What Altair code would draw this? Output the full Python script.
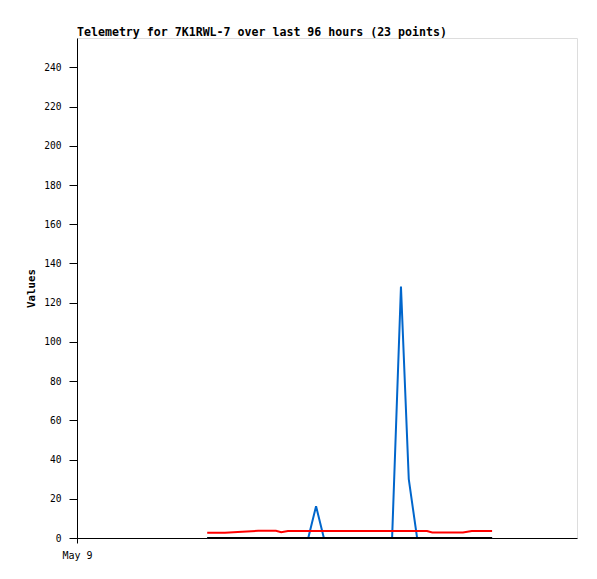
import altair as alt
import pandas as pd

# hours since May 9 00:00
hours = [25.0, 28.4, 31.7, 34.8, 38.2, 39.2, 40.5, 42.8, 44.4, 45.9, 47.4, 52.4,
         56.3, 60.5, 62.2, 63.7, 65.3, 67.2, 68.2, 71.6, 74.1, 75.8, 79.7]
blue_vals = [0, 0, 0, 0, 0, 0, 0, 0, 0, 16.2, 0, 0,
             0, 0, 128.3, 30, 0, 0, 0, 0, 0, 0, 0]
red_vals = [2.7, 2.7, 3.2, 3.7, 3.7, 3.0, 3.6, 3.6, 3.6, 3.6, 3.6, 3.6,
            3.6, 3.6, 3.6, 3.6, 3.6, 3.6, 2.8, 2.8, 2.8, 3.6, 3.6]
black_vals = [0] * 23

y_ticks = [0, 20, 40, 60, 80, 100, 120, 140, 160, 180, 200, 220, 240]

df = pd.DataFrame({
    "h": hours * 3,
    "v": blue_vals + red_vals + black_vals,
    "s": ["blue"] * 23 + ["red"] * 23 + ["black"] * 23,
})

FONT = "DejaVu Sans Mono"

xs = alt.X("h:Q", scale=alt.Scale(domain=[0, 96], nice=False, zero=False),
           axis=alt.Axis(values=[0], labelExpr="'May 9'", title=None, grid=False,
                         tickSize=5, labelFontSize=10, labelFont=FONT, labelColor="black",
                         labelAlign="center", labelFlush=False,
                         domainColor="black", tickColor="black", labelPadding=7))
ys = alt.Y("v:Q", scale=alt.Scale(domain=[0, 255], nice=False),
           axis=alt.Axis(values=y_ticks, title="Values", grid=False, tickSize=8,
                         labelFontSize=9.6, labelFont=FONT, labelColor="black",
                         domainColor="black", tickColor="black", labelPadding=8,
                         titleFont=FONT, titleFontSize=10.8, titleFontWeight="bold",
                         titleColor="black", titleAngle=270, titleX=-46, titleY=250,
                         titleAlign="center", titleBaseline="middle"))

def layer(name, color):
    return alt.Chart(df).transform_filter(alt.datum.s == name).mark_line(
        color=color, strokeWidth=2, interpolate="linear").encode(x=xs, y=ys)

chart = alt.layer(
    layer("blue", "#0066cc"),
    layer("red", "#ff0000"),
    layer("black", "#000000"),
).properties(
    width=500, height=500,
    title=alt.TitleParams("Telemetry for 7K1RWL-7 over last 96 hours (23 points)",
                          anchor="start", frame="group", font=FONT, fontSize=11.6,
                          fontWeight="bold", color="black", offset=-1),
    autosize=alt.AutoSizeParams(type="none"),
    padding={"left": 69, "top": 30, "right": 12, "bottom": 33},
).configure_view(stroke="black", strokeWidth=1).configure(background="white")

chart.save("out.html", embed_options={"renderer": "svg", "actions": False})
